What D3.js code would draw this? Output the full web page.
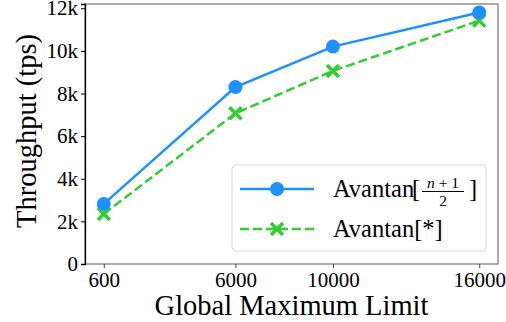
<!DOCTYPE html>
<html>
<head>
<meta charset="utf-8">
<script src="https://cdn.jsdelivr.net/npm/d3@7"></script>
<style>
  body { margin: 0; background: #fff; }
  svg { display: block; }
  text { font-family: "Liberation Serif", "Times New Roman", serif; fill: #000; }
</style>
</head>
<body>
<svg id="chart" width="506" height="322"></svg>
<script>
// Values.
const limits = [600, 6000, 10000, 16000];
const halfQuorum = [2820, 8300, 10200, 11800];   // Avantan[(n+1)/2]
const starQuorum = [2350, 7070, 9060, 11420];    // Avantan[*]
const xTicks = [600, 6000, 10000, 16000];
const yTicks = [0, 2000, 4000, 6000, 8000, 10000, 12000];

const svg = d3.select("#chart");
const margin = { top: 4, right: 8, bottom: 58, left: 85 };
const width = +svg.attr("width");
const height = +svg.attr("height");
const innerWidth = width - margin.left - margin.right;
const innerHeight = height - margin.top - margin.bottom;

const g = svg.append("g")
  .attr("transform", `translate(${margin.left}, ${margin.top})`);

// matplotlib-style 5% padding on x
const x = d3.scaleLinear()
  .domain([-170, 16770])
  .range([0, innerWidth]);

const y = d3.scaleLinear()
  .domain([0, 12200])
  .range([innerHeight, 0]);

const blue = "#1e90ff";
const green = "#32cd32";

// Frame: left spine black, others gray
g.append("rect")
  .attr("x", 0).attr("y", 0)
  .attr("width", innerWidth).attr("height", innerHeight)
  .attr("fill", "none")
  .attr("stroke", "#808080")
  .attr("stroke-width", 1.3);

// Y axis
const yAxis = g.append("g")
  .call(d3.axisLeft(y)
    .tickValues(yTicks)
    .tickSize(4)
    .tickPadding(3)
    .tickFormat(d => d === 0 ? "0" : d / 1000 + "k"));
yAxis.select(".domain").attr("stroke", "#000").attr("stroke-width", 1.3);
yAxis.selectAll(".tick line").attr("stroke", "#000");
yAxis.selectAll("text")
  .attr("font-size", "21px")
  .attr("font-family", "Liberation Serif, serif");

// X axis
const xAxis = g.append("g")
  .attr("transform", `translate(0, ${innerHeight})`)
  .call(d3.axisBottom(x)
    .tickValues(xTicks)
    .tickSize(4)
    .tickPadding(4)
    .tickFormat(d3.format("d")));
xAxis.select(".domain").remove();
xAxis.selectAll(".tick line").attr("stroke", "#444");
xAxis.selectAll("text")
  .attr("font-size", "21px")
  .attr("font-family", "Liberation Serif, serif");

// Axis titles
svg.append("text")
  .attr("x", margin.left + innerWidth / 2)
  .attr("y", 315)
  .attr("text-anchor", "middle")
  .attr("font-size", "28.5px")
  .text("Global Maximum Limit");

svg.append("text")
  .attr("transform", `translate(36, ${margin.top + innerHeight / 2 - 3}) rotate(-90)`)
  .attr("text-anchor", "middle")
  .attr("font-size", "28.5px")
  .text("Throughput (tps)");

// Lines
const line = d3.line()
  .x(d => x(d[0]))
  .y(d => y(d[1]));

const halfData = limits.map((v, i) => [v, halfQuorum[i]]);
const starData = limits.map((v, i) => [v, starQuorum[i]]);

g.append("path")
  .datum(starData)
  .attr("d", line)
  .attr("fill", "none")
  .attr("stroke", green)
  .attr("stroke-width", 2.5)
  .attr("stroke-dasharray", "9,4");

g.append("path")
  .datum(halfData)
  .attr("d", line)
  .attr("fill", "none")
  .attr("stroke", blue)
  .attr("stroke-width", 2.5);

function crossMarker(sel, cx, cy, r) {
  sel.append("path")
    .attr("d", `M${cx - r},${cy - r}L${cx + r},${cy + r}M${cx - r},${cy + r}L${cx + r},${cy - r}`)
    .attr("stroke", green)
    .attr("stroke-width", 3.5)
    .attr("fill", "none");
}

starData.forEach(d => crossMarker(g, x(d[0]), y(d[1]), 6));

g.selectAll(".dot")
  .data(halfData)
  .join("circle")
  .attr("class", "dot")
  .attr("cx", d => x(d[0]))
  .attr("cy", d => y(d[1]))
  .attr("r", 7)
  .attr("fill", blue);

// Legend
const legend = svg.append("g").attr("transform", "translate(232, 165)");
legend.append("rect")
  .attr("width", 254).attr("height", 86)
  .attr("rx", 4)
  .attr("fill", "#fff")
  .attr("fill-opacity", 0.8)
  .attr("stroke", "#d9d9d9")
  .attr("stroke-width", 1);

// entry 1
legend.append("line")
  .attr("x1", 8).attr("x2", 82).attr("y1", 24).attr("y2", 24)
  .attr("stroke", blue).attr("stroke-width", 2.5);
legend.append("circle")
  .attr("cx", 45).attr("cy", 24).attr("r", 7).attr("fill", blue);
legend.append("text")
  .attr("x", 101).attr("y", 32)
  .attr("font-size", "24.5px")
  .text("Avantan");
legend.append("text")
  .attr("x", 180).attr("y", 32)
  .attr("font-size", "24.5px")
  .text("[");
const frac = legend.append("g").attr("transform", "translate(190, 0)");
frac.append("text")
  .attr("x", 21).attr("y", 23)
  .attr("text-anchor", "middle")
  .attr("font-family", "DejaVu Sans, sans-serif")
  .attr("font-size", "15.5px")
  .html('<tspan font-style="italic">n</tspan> + 1');
frac.append("line")
  .attr("x1", 0).attr("x2", 42).attr("y1", 26.5).attr("y2", 26.5)
  .attr("stroke", "#000").attr("stroke-width", 1);
frac.append("text")
  .attr("x", 21).attr("y", 41)
  .attr("text-anchor", "middle")
  .attr("font-family", "DejaVu Sans, sans-serif")
  .attr("font-size", "15.5px")
  .text("2");
legend.append("text")
  .attr("x", 237).attr("y", 32)
  .attr("font-size", "24.5px")
  .text("]");

// entry 2
legend.append("line")
  .attr("x1", 8).attr("x2", 82).attr("y1", 64).attr("y2", 64)
  .attr("stroke", green).attr("stroke-width", 2.5)
  .attr("stroke-dasharray", "9,4");
crossMarker(legend, 45, 64, 6);
legend.append("text")
  .attr("x", 101).attr("y", 72)
  .attr("font-size", "24.5px")
  .text("Avantan[*]");
</script>
</body>
</html>
